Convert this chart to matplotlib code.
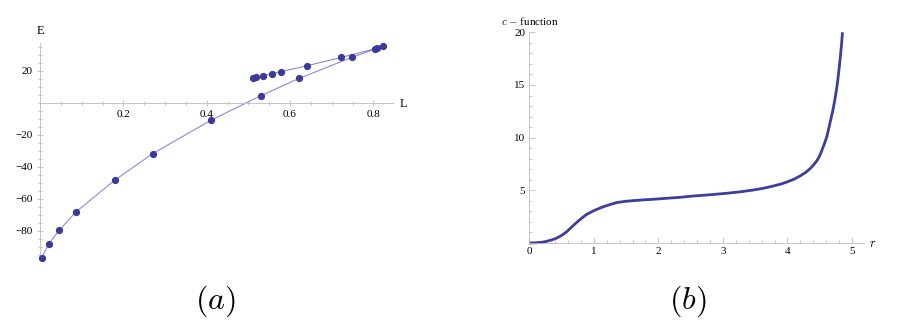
import matplotlib
matplotlib.use("Agg")
import matplotlib.pyplot as plt
from matplotlib.ticker import MultipleLocator, FixedLocator

plt.rcParams['font.family'] = ['Liberation Serif', 'DejaVu Serif']
plt.rcParams['mathtext.fontset'] = 'cm'

# panel (a): E vs L, lower branch then back along upper branch
L_vals = [0.004, 0.021, 0.046, 0.086, 0.179, 0.270, 0.410, 0.530, 0.622,
          0.748, 0.809, 0.824, 0.804, 0.723, 0.641, 0.578, 0.556, 0.536,
          0.518, 0.512]
E_vals = [-97.0, -88.3, -79.9, -68.4, -48.6, -32.0, -11.1, 4.3, 15.1,
          28.2, 33.9, 35.5, 33.6, 28.2, 23.0, 19.3, 18.0, 16.8,
          15.8, 15.5]

# panel (b): c-function vs r
r_vals = [0.0, 0.10, 0.20, 0.27, 0.35, 0.42, 0.50, 0.58, 0.65, 0.73, 0.81,
          0.89, 1.00, 1.08, 1.15, 1.25, 1.35, 1.48, 1.61, 1.78, 1.92, 2.14,
          2.34, 2.54, 2.80, 3.06, 3.27, 3.47, 3.63, 3.78, 3.90, 3.99, 4.10,
          4.20, 4.28, 4.35, 4.41, 4.46, 4.50, 4.53, 4.57, 4.61, 4.64, 4.67,
          4.70, 4.725, 4.745, 4.765, 4.782, 4.797, 4.811, 4.824, 4.838, 4.852]
c_vals = [0.0, 0.02, 0.07, 0.16, 0.30, 0.45, 0.72, 1.07, 1.48, 1.93, 2.35,
          2.72, 3.07, 3.28, 3.45, 3.65, 3.83, 3.95, 4.02, 4.10, 4.15, 4.25,
          4.34, 4.46, 4.58, 4.72, 4.86, 5.03, 5.20, 5.41, 5.60, 5.79, 6.05,
          6.38, 6.70, 7.05, 7.45, 7.85, 8.30, 8.75, 9.40, 10.1, 10.9, 11.7,
          12.5, 13.3, 14.0, 14.8, 15.6, 16.4, 17.2, 18.0, 18.9, 20.0]

fig = plt.figure(figsize=(9, 3.27), dpi=100)

axis_col = '#bdbdbd'
tick_col = '#b0b0b0'

# ---- panel (a)
ax1 = fig.add_axes([40 / 900, 67 / 327, 353 / 900, 217 / 327])
ax1.plot(L_vals, E_vals, color='#8a8ad8', lw=0.8, zorder=2, clip_on=False)
ax1.plot(L_vals, E_vals, 'o', color='#3b3b9b', ms=4.2, zorder=3, clip_on=False)
ax1.set_xlim(0, 0.847)
ax1.set_ylim(-98.4, 37.2)
ax1.spines['right'].set_visible(False)
ax1.spines['top'].set_visible(False)
ax1.spines['bottom'].set_position(('data', 0))
for s in ['left', 'bottom']:
    ax1.spines[s].set_color(axis_col)
    ax1.spines[s].set_linewidth(0.6)
ax1.xaxis.set_major_locator(FixedLocator([0.2, 0.4, 0.6, 0.8]))
ax1.xaxis.set_minor_locator(MultipleLocator(0.05))
ax1.yaxis.set_major_locator(FixedLocator([-80, -60, -40, -20, 20]))
ax1.yaxis.set_minor_locator(MultipleLocator(5))
ax1.tick_params(which='both', direction='inout', color=tick_col, width=0.5,
                labelsize=8, pad=3)
ax1.tick_params(which='major', length=5)
ax1.tick_params(which='minor', length=3)
ax1.xaxis.set_major_formatter(plt.FuncFormatter(lambda v, p: f'{v:.1f}'))
ax1.yaxis.set_major_formatter(plt.FuncFormatter(lambda v, p: f'{v:.0f}'.replace('-', '\u2212')))
fig.text(40 / 900, 1 - 31 / 327, 'E', fontsize=9, ha='center', va='center')
fig.text(403 / 900, 1 - 104 / 327, 'L', fontsize=9, ha='center', va='center')

# ---- panel (b)
ax2 = fig.add_axes([529.3 / 900, 84 / 327, 335 / 900, 210.7 / 327])
ax2.plot(r_vals, c_vals, color='#3d3d9d', lw=2.0, solid_capstyle='butt',
         solid_joinstyle='round', clip_on=False)
ax2.set_xlim(0, 5.19)
ax2.set_ylim(0, 20)
ax2.spines['right'].set_visible(False)
ax2.spines['top'].set_visible(False)
for s in ['left', 'bottom']:
    ax2.spines[s].set_color(axis_col)
    ax2.spines[s].set_linewidth(0.6)
ax2.xaxis.set_major_locator(FixedLocator([0, 1, 2, 3, 4, 5]))
ax2.xaxis.set_minor_locator(MultipleLocator(0.2))
ax2.yaxis.set_major_locator(FixedLocator([5, 10, 15, 20]))
ax2.yaxis.set_minor_locator(MultipleLocator(1))
ax2.tick_params(which='both', direction='in', color=tick_col, width=0.5,
                labelsize=8, pad=3)
ax2.tick_params(which='major', length=4.5)
ax2.tick_params(which='minor', length=2.5)
fig.text(530 / 900, 1 - 21 / 327, r'$c$ $-$ function', fontsize=8,
         ha='center', va='center')
fig.text(873 / 900, 1 - 244 / 327, r'$r$', fontsize=9, ha='center', va='center')

# panel captions
fig.text(215 / 900, 1 - 301 / 327, r'$(a)$', fontsize=23, ha='center', va='center')
fig.text(688 / 900, 1 - 301 / 327, r'$(b)$', fontsize=23, ha='center', va='center')

fig.savefig('out.png', dpi=100)
